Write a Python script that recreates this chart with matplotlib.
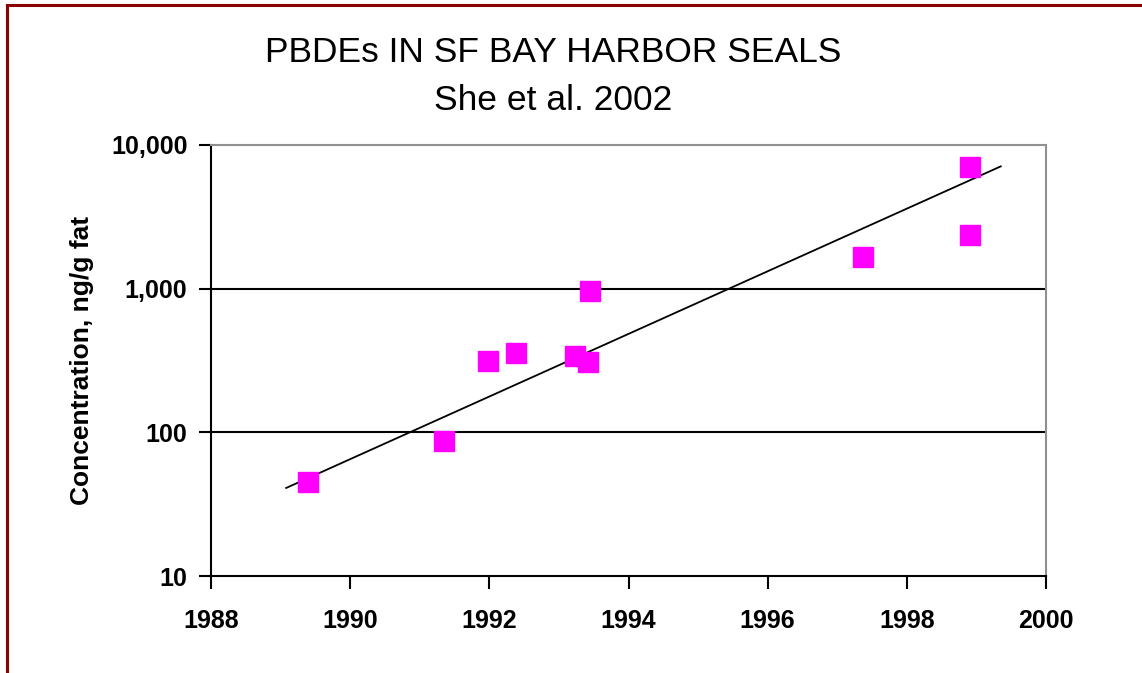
import matplotlib
matplotlib.use("Agg")
import matplotlib.pyplot as plt
from matplotlib.lines import Line2D

# data
years = [1989.39, 1991.35, 1991.98, 1992.38, 1993.23, 1993.42, 1993.45, 1997.37, 1998.91, 1998.91]
conc = [45, 87, 313, 356, 340, 308, 960, 1660, 2360, 7000]
x_ticks = [1988, 1990, 1992, 1994, 1996, 1998, 2000]
y_ticks = [10, 100, 1000, 10000]
y_labels = ["10", "100", "1,000", "10,000"]
# trendline end points as drawn in the chart
trend_years = [1989.08, 1999.35]
trend_conc = [41, 7100]

plt.rcParams['font.family'] = ['Liberation Sans', 'DejaVu Sans']

fig = plt.figure(figsize=(11.42, 6.73), dpi=100)
ax = fig.add_axes([211/1142, 1-576/673, (1046-211)/1142, (576-145)/673])

ax.plot(trend_years, trend_conc, color='black', lw=1.3, zorder=3)

ax.plot(years, conc, linestyle='none', marker='s', markersize=15,
        color='#ff00ff', markeredgecolor='#ff00ff', zorder=4)

ax.set_yscale('log')
ax.set_xlim(1988, 2000)
ax.set_ylim(10, 10000)
ax.set_xticks(x_ticks)
ax.set_xticklabels([str(t) for t in x_ticks], fontsize=18, fontweight='bold')
ax.set_yticks(y_ticks)
ax.set_yticklabels(y_labels, fontsize=18, fontweight='bold')
ax.yaxis.set_minor_locator(matplotlib.ticker.NullLocator())
ax.tick_params(axis='both', direction='out', length=9, width=1.5, color='black')
ax.tick_params(axis='x', pad=15)
ax.tick_params(axis='y', pad=8)

for v in [100, 1000]:
    ax.axhline(v, color='black', lw=1.5, zorder=1)

ax.spines['left'].set_color('black')
ax.spines['left'].set_linewidth(1.5)
ax.spines['bottom'].set_color('black')
ax.spines['bottom'].set_linewidth(1.5)
ax.spines['top'].set_color('#909090')
ax.spines['top'].set_linewidth(1.5)
ax.spines['right'].set_color('#909090')
ax.spines['right'].set_linewidth(1.5)

ax.set_ylabel("Concentration, ng/g fat", fontsize=19, fontweight='bold', labelpad=12)

fig.text(553/1142, 1-52/673, "PBDEs IN SF BAY HARBOR SEALS", fontsize=25.5,
         ha='center', va='center')
fig.text(553/1142, 1-101/673, "She et al. 2002", fontsize=25.5,
         ha='center', va='center')

# dark red frame (left and top only, rest is cropped)
fig.add_artist(Line2D([7/1142, 7/1142], [0, 1-5/673], color='#8b0000', lw=2.2,
                      transform=fig.transFigure))
fig.add_artist(Line2D([7/1142, 1], [1-5/673, 1-5/673], color='#8b0000', lw=2.2,
                      transform=fig.transFigure))

fig.savefig("out.png", dpi=100)
